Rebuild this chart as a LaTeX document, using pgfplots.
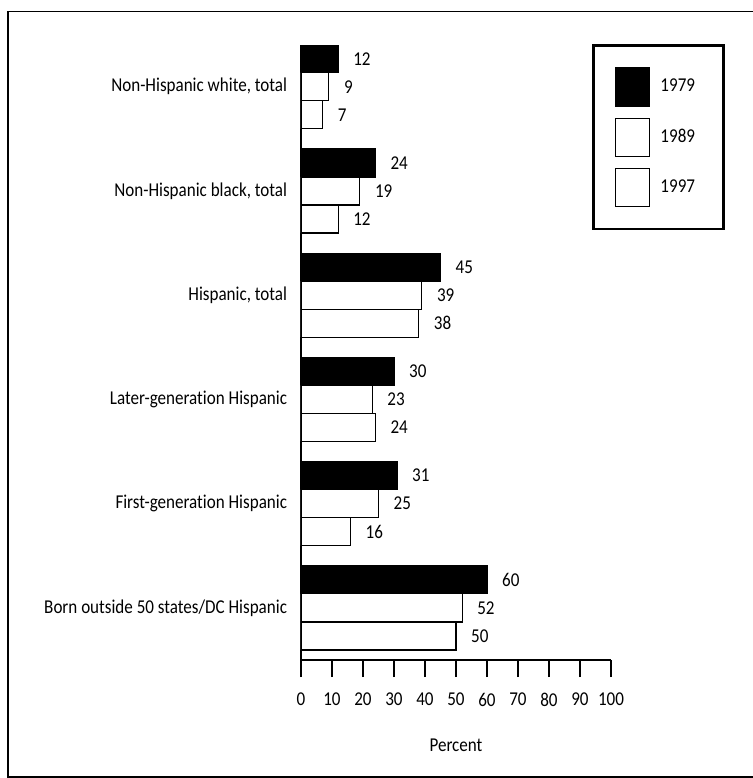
\documentclass[border=0pt]{standalone}
\usepackage{fontspec}
\setmainfont{Carlito}[FakeStretch=0.87, Ligatures=NoCommon]
\usepackage{pgfplots}
\pgfplotsset{compat=1.18}
\begin{document}
\fontsize{9.8}{11.5}\selectfont
\begin{tikzpicture}[x=1pt,y=1pt]
\begin{axis}[
  at={(0,0)}, anchor=south west,
  scale only axis, width=155pt, height=307.5pt,
  xbar, bar width=0.269,
  xmin=0, xmax=100,
  ymin=-0.4, ymax=5.5, y dir=reverse,
  axis x line=bottom, axis y line=left,
  axis line style={-, line width=1.3pt, black},
  tick align=outside,
  major tick length=8.5pt,
  xtick={0,10,...,100},
  xtick style={line width=1.3pt, black},
  xticklabel style={yshift=-4.5pt},
  ytick={0,...,5},
  yticklabels={{Non-Hispanic white, total},{Non-Hispanic black, total},{Hispanic, total},{Later-generation Hispanic},{First-generation Hispanic},{Born outside 50 states/DC Hispanic}},
  ytick style={draw=none},
  yticklabel style={anchor=east, xshift=5pt},
  /pgf/number format/assume math mode=true,
  xlabel={Percent},
  xlabel style={at={(axis description cs:0.5,0)}, anchor=center, yshift=-42.5pt},
  nodes near coords,
  every node near coord/.append style={anchor=west, xshift=4pt, text=black},
  legend image code/.code={\draw[#1, line width=0.6pt] (0pt,-9.5pt) rectangle (17pt,9.5pt);},
  legend style={at={(axis description cs:0.9387,1.0016)}, anchor=north west,
    draw=black, line width=1.3pt, inner xsep=11pt, inner ysep=11pt,
    row sep=5.5pt, column sep=5pt, nodes={inner sep=0pt}},
  legend cell align=left,
]
% 1979
\addplot[fill=black, draw=black, line width=0.6pt, bar shift=-0.269] coordinates {
(12,0) (24,1) (45,2) (30,3) (31,4) (60,5)};
\addlegendentry{\makebox[20.5pt][l]{1979}}
% 1989
\addplot[fill=white, draw=black, line width=0.6pt, bar shift=0] coordinates {
(9,0) (19,1) (39,2) (23,3) (25,4) (52,5)};
\addlegendentry{\makebox[20.5pt][l]{1989}}
% 1997
\addplot[fill=white, draw=black, line width=0.6pt, bar shift=0.269] coordinates {
(7,0) (12,1) (38,2) (24,3) (16,4) (50,5)};
\addlegendentry{\makebox[20.5pt][l]{1997}}
\end{axis}
\useasboundingbox (-150.5,-59) rectangle (226,330);
\draw[line width=0.8pt] (232,324.25) -- (-146.5,324.25) -- (-146.5,-58.5) -- (232,-58.5);
\end{tikzpicture}
\end{document}
